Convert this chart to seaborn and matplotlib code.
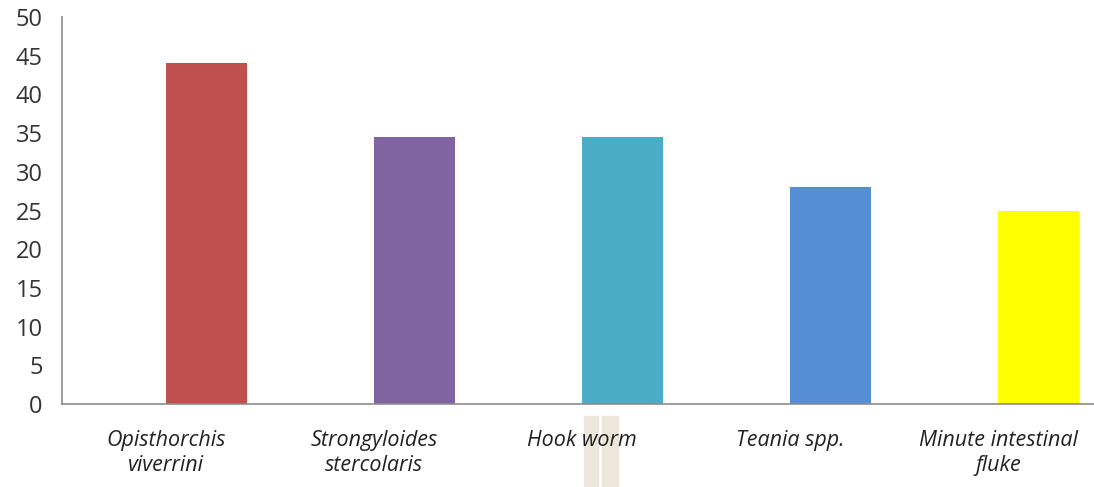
import matplotlib
matplotlib.use("Agg")
import matplotlib.pyplot as plt
import seaborn as sns
import pandas as pd
from matplotlib.patches import Rectangle

# Parasite species and their prevalence
species = [
    "Opisthorchis\nviverrini",
    "Strongyloides\nstercolaris",
    "Hook worm",
    "Teania spp.",
    "Minute intestinal\nfluke",
]
prevalence = [44.0, 34.5, 34.5, 28.0, 25.0]
bar_colors = ["#C0504D", "#8064A2", "#4BACC6", "#558ED5", "#FFFF00"]
y_ticks = list(range(0, 51, 5))

sns.set_theme(style="white")
plt.rcParams["font.family"] = ["Open Sans", "DejaVu Sans"]

df = pd.DataFrame({"species": species, "prevalence": prevalence})

fig = plt.figure(figsize=(10.94, 4.87), dpi=100)
ax = fig.add_axes([62 / 1094, 83 / 487, 1032 / 1094, 387 / 487])

bar_width = 0.39
sns.barplot(
    data=df, x="species", y="prevalence", hue="species",
    palette=bar_colors, width=bar_width, saturation=1,
    legend=False, ax=ax,
)
# bars sit to the right of each category tick
for p in ax.patches:
    p.set_x(p.get_x() + bar_width / 2)
    p.set_edgecolor("none")

ax.set_xlim(-0.5, 4.46)
ax.set_ylim(0, 50)
ax.set_yticks(y_ticks)
ax.set_xlabel("")
ax.set_ylabel("")

for side in ["top", "right"]:
    ax.spines[side].set_visible(False)
for side in ["left", "bottom"]:
    ax.spines[side].set_color("#8c8c8c")
    ax.spines[side].set_linewidth(1.2)

ax.tick_params(axis="y", length=0, pad=14, labelsize=17, labelcolor="#333333")
ax.tick_params(axis="x", length=0, pad=19, labelsize=15.5, labelcolor="#222222")
for lbl in ax.get_xticklabels():
    lbl.set_fontstyle("italic")
    lbl.set_linespacing(1.25)

# beige marks below the third category, behind the labels
for x0, w in [(584, 14), (602, 16)]:
    fig.patches.append(Rectangle((x0 / 1094, 0), w / 1094, 71 / 487,
                                 transform=fig.transFigure, color="#EDE6DA",
                                 zorder=-1))

fig.savefig("out.png", dpi=100)
